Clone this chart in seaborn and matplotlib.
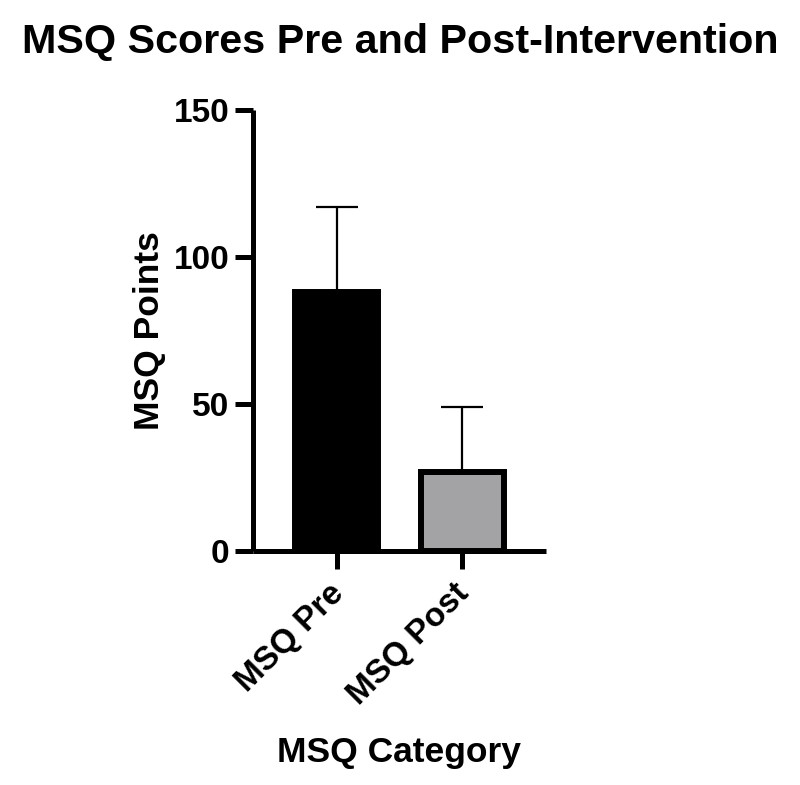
import matplotlib
matplotlib.use("Agg")
import matplotlib.pyplot as plt
import matplotlib.transforms as mtransforms
import seaborn as sns
import pandas as pd

categories = ["MSQ Pre", "MSQ Post"]
means = [88, 27]
sds = [29, 22]
bar_colors = ["#000000", "#A2A2A6"]
yticks = [0, 50, 100, 150]

sns.set_style("ticks")
plt.rcParams['font.family'] = ['Liberation Sans', 'DejaVu Sans']
plt.rcParams['font.weight'] = 'bold'
for k in ['text.color', 'axes.labelcolor', 'xtick.color', 'ytick.color', 'axes.edgecolor']:
    plt.rcParams[k] = 'black'

fig = plt.figure(figsize=(8, 7.85), dpi=100)
ax = fig.add_axes([0.316, 0.298, 0.3665, 0.562])

df = pd.DataFrame({"cat": categories, "val": means})
sns.barplot(data=df, x="cat", y="val", hue="cat", palette=bar_colors,
            width=0.66, edgecolor="black", linewidth=4.3, legend=False, ax=ax,
            errorbar=None, zorder=2)

ax.errorbar(x=range(len(categories)), y=means, yerr=[[0] * len(sds), sds],
            fmt="none", ecolor="black", elinewidth=1.6, capsize=15, capthick=1.6,
            zorder=1)

ax.set_ylim(0, 150)
ax.set_xlim(-0.667, 1.667)

for s in ["top", "right"]:
    ax.spines[s].set_visible(False)
for s in ["left", "bottom"]:
    ax.spines[s].set_linewidth(3.6)
    ax.spines[s].set_capstyle('butt')
ax.tick_params(axis='both', width=3.6, length=13, direction='out', pad=4)

ax.set_yticks(yticks)
ax.set_yticklabels([str(t) for t in yticks], fontsize=24, fontweight='bold')
ax.set_xticks(range(len(categories)))
ax.set_xticklabels(categories, fontsize=24, fontweight='bold', rotation=45,
                   ha='right', rotation_mode='anchor')
offset = mtransforms.ScaledTranslation(-6 / 72, -2 / 72, fig.dpi_scale_trans)
for lbl in ax.get_xticklabels():
    lbl.set_transform(lbl.get_transform() + offset)

ax.set_ylabel("MSQ Points", fontsize=25.5, fontweight='bold', labelpad=5)
ax.set_xlabel("MSQ Category", fontsize=25.5, fontweight='bold', labelpad=18)

fig.text(0.5, 1 - 42 / 785, "MSQ Scores Pre and Post-Intervention",
         ha='center', va='center', fontsize=29.7, fontweight='bold')

fig.savefig("out.png", dpi=100)
